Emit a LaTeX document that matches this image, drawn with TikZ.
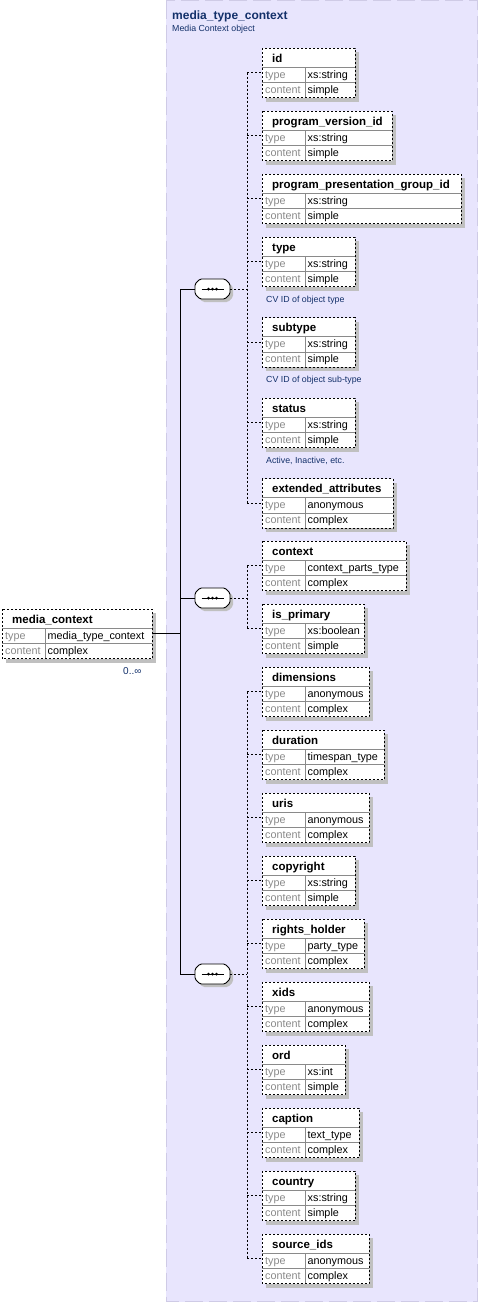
\documentclass[tikz,border=0pt]{standalone}
\usepackage{fontspec}
\setmainfont{Liberation Sans}
\definecolor{xsbg}{HTML}{E8E5FD}
\definecolor{xsrule}{HTML}{CFCBE6}
\definecolor{xsnavy}{HTML}{13306A}
\definecolor{xsgray}{HTML}{8A8A8A}
\definecolor{xsshadow}{HTML}{C0C0C0}

% element box: name, left, top, right, label, type, content
\newcommand{\xsbox}[7]{%
  \fill[xsshadow] (#2+4,#3+4) rectangle (#4+4,#3+53.5);
  \fill[white] (#2,#3) rectangle (#4,#3+49.5);
  \draw[rowrule] (#2,#3+19) -- (#4,#3+19) (#2,#3+34.5) -- (#4,#3+34.5)
    (#2+43.7,#3+19) -- (#2+43.7,#3+49.5);
  \draw[boxrule] (#2,#3) rectangle (#4,#3+49.5);
  \node[hdrtext] (#1) at (#2+10,#3+14) {#5};
  \node[keytext] (#1-k1) at (#2+3,#3+30) {type};
  \node[keytext] (#1-k2) at (#2+3,#3+45) {content};
  \node[valtext] (#1-v1) at (#2+45.5,#3+30) {#6};
  \node[valtext] (#1-v2) at (#2+45.5,#3+45) {#7};
  \coordinate (#1-in) at (#2,#3+24.5);
  \coordinate (#1-out) at (#4,#3+24.5);
}

% sequence compositor: name, x, y
\newcommand{\xsseq}[3]{%
  \fill[xsshadow,rounded corners=1.5pt] (#2-9.5,#3-7) -- (#2+15.5,#3-7) -- (#2+20.5,#3-2)
    -- (#2+20.5,#3+8) -- (#2+15.5,#3+13) -- (#2-9.5,#3+13) -- (#2-14.5,#3+8) -- (#2-14.5,#3-2) -- cycle;
  \filldraw[conn,fill=white,rounded corners=1.5pt] (#2-12.5,#3-10) -- (#2+12.5,#3-10) -- (#2+17.5,#3-5)
    -- (#2+17.5,#3+5) -- (#2+12.5,#3+10) -- (#2-12.5,#3+10) -- (#2-17.5,#3+5) -- (#2-17.5,#3-5) -- cycle;
  \node[seqbox] (#1) at (#2,#3) {};
  \draw[line width=0.9pt] (#2-11,#3) -- (#2+11,#3);
  \foreach \dx in {-4,0,4}
    \fill (#2+\dx,#3) circle (1.5pt);
}

\begin{document}
\begin{tikzpicture}[x=1pt,y=-1pt,
  boxrule/.style={black,line width=0.9pt,dash pattern=on 2pt off 2pt},
  rowrule/.style={xsgray,line width=0.8pt},
  hdrtext/.style={anchor=base west,inner sep=0pt,font=\fontsize{11.5}{13}\selectfont\bfseries},
  keytext/.style={anchor=base west,inner sep=0pt,text=xsgray,font=\fontsize{10.8}{12}\selectfont},
  valtext/.style={anchor=base west,inner sep=0pt,font=\fontsize{10.8}{12}\selectfont},
  notetext/.style={anchor=base west,inner sep=0pt,text=xsnavy,font=\fontsize{8.8}{10}\selectfont},
  seqbox/.style={rectangle,minimum width=35pt,minimum height=20pt,inner sep=0pt},
  conn/.style={black,line width=0.9pt},
  dconn/.style={black,line width=0.9pt,dash pattern=on 2pt off 2pt}
]
\useasboundingbox (0,0) rectangle (478,1302);
\fill[xsbg] (166,0) rectangle (477.5,1301.5);
\draw[xsrule,line width=0.8pt,dash pattern=on 18pt off 6pt] (166,0.5) rectangle (477.5,1301.5);

\node[anchor=base west,inner sep=0pt,text=xsnavy,font=\fontsize{12}{14}\selectfont\bfseries]
  (title) at (172,19) {media\_type\_context};
\node[notetext] (titlenote) at (172,31) {Media Context object};

\coordinate (trunk) at (180,0);
\coordinate (spine) at (247,0);

\xsbox{media}{2}{609}{152}{media\_context}{media\_type\_context}{complex}
\node[anchor=base west,inner sep=0pt,text=xsnavy,font=\fontsize{10}{11}\selectfont]
  (occurs) at (123,674) {0..∞};

\xsbox{eid}{262}{48}{355}{id}{xs:string}{simple}
\xsbox{epvid}{262}{111}{392}{program\_version\_id}{xs:string}{simple}
\xsbox{eppgid}{262}{174}{461}{program\_presentation\_group\_id}{xs:string}{simple}
\xsbox{etype}{262}{237}{355}{type}{xs:string}{simple}
\node[notetext] (etype-note) at (266,302) {CV ID of object type};
\xsbox{esubtype}{262}{317.5}{355}{subtype}{xs:string}{simple}
\node[notetext] (esubtype-note) at (266,382.5) {CV ID of object sub-type};
\xsbox{estatus}{262}{398}{355}{status}{xs:string}{simple}
\node[notetext] (estatus-note) at (266,463) {Active, Inactive, etc.};
\xsbox{eext}{262}{478.5}{393}{extended\_attributes}{anonymous}{complex}

\xsbox{econtext}{262}{541}{406}{context}{context\_parts\_type}{complex}
\xsbox{eprimary}{262}{604}{364}{is\_primary}{xs:boolean}{simple}

\xsbox{edim}{262}{667}{369}{dimensions}{anonymous}{complex}
\xsbox{edur}{262}{730}{384}{duration}{timespan\_type}{complex}
\xsbox{euris}{262}{793}{369}{uris}{anonymous}{complex}
\xsbox{ecopy}{262}{856}{355}{copyright}{xs:string}{simple}
\xsbox{erights}{262}{919}{364}{rights\_holder}{party\_type}{complex}
\xsbox{exids}{262}{982}{369}{xids}{anonymous}{complex}
\xsbox{eord}{262}{1045}{345}{ord}{xs:int}{simple}
\xsbox{ecaption}{262}{1108}{359}{caption}{text\_type}{complex}
\xsbox{ecountry}{262}{1171}{355}{country}{xs:string}{simple}
\xsbox{esource}{262}{1234}{369}{source\_ids}{anonymous}{complex}

\xsseq{seqA}{212.5}{289}
\xsseq{seqB}{212.5}{598}
\xsseq{seqC}{212.5}{974}

\draw[conn] (media-out) -- (media-out -| trunk);
\draw[conn] (seqA.west -| trunk) -- (seqC.west -| trunk);
\foreach \s in {seqA,seqB,seqC}
  \draw[conn] (\s.west -| trunk) -- (\s.west);

\draw[dconn] (seqA.east) -- (seqA.east -| spine);
\draw[dconn] (eid-in -| spine) -- (eext-in -| spine);
\foreach \e in {eid,epvid,eppgid,etype,esubtype,estatus,eext}
  \draw[dconn] (\e-in -| spine) -- (\e-in);

\draw[dconn] (seqB.east) -- (seqB.east -| spine);
\draw[dconn] (econtext-in -| spine) -- (eprimary-in -| spine);
\foreach \e in {econtext,eprimary}
  \draw[dconn] (\e-in -| spine) -- (\e-in);

\draw[dconn] (seqC.east) -- (seqC.east -| spine);
\draw[dconn] (edim-in -| spine) -- (esource-in -| spine);
\foreach \e in {edim,edur,euris,ecopy,erights,exids,eord,ecaption,ecountry,esource}
  \draw[dconn] (\e-in -| spine) -- (\e-in);
\end{tikzpicture}
\end{document}
